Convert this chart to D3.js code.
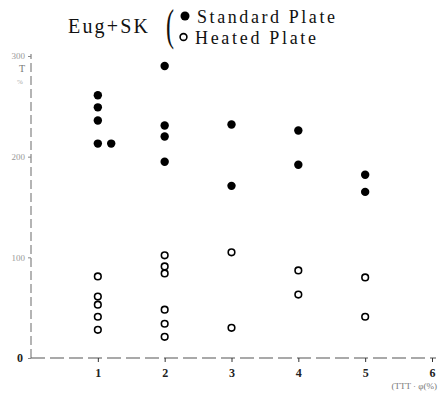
<!DOCTYPE html>
<html><head><meta charset="utf-8">
<script src="https://cdn.jsdelivr.net/npm/d3@7"></script>
<style>html,body{margin:0;padding:0;background:#fff}svg{display:block}</style>
</head><body>
<svg id="c" width="439" height="393"></svg>
<script>
// Data
const standardX = [1,1,1,1,1.2, 2,2,2,2, 3,3, 4,4, 5,5];
const standardY = [261,249,236,213,213, 290,231,220,195, 232,171, 226,192, 182,165];
const heatedX = [1,1,1,1,1, 2,2,2,2,2,2, 3,3, 4,4, 5,5];
const heatedY = [81,61,53,41,28, 102,91,84,48,34,21, 105,30, 87,63, 80,41];
const xTicks = [1,2,3,4,5,6];
const xTickLabels = ["1","2","3","4","5","6"];
const yTicks = [0,100,200,300];
const yTickLabels = ["0","100","200","300"];
const legendLabels = ["Standard Plate","Heated Plate"];
const title = "Eug+SK";

const svg = d3.select("#c");
const x = d3.scaleLinear().domain([0,6]).range([31,432]);
const y = d3.scaleLinear().domain([0,300]).range([358,56]);
const serif = "'Liberation Serif','DejaVu Serif',serif";

// axes
svg.append("line").attr("x1",x(0)).attr("x2",x(0)).attr("y1",y(0)).attr("y2",y(300)-2)
  .attr("stroke","#777").attr("stroke-width",1.1).attr("stroke-dasharray","9,4");
svg.append("line").attr("x1",x(0)).attr("x2",x(6)+4).attr("y1",y(0)).attr("y2",y(0))
  .attr("stroke","#555").attr("stroke-width",1.2).attr("stroke-dasharray","14,5");

const xa = d3.axisBottom(x).tickValues(xTicks).tickFormat((d,i)=>xTickLabels[i]).tickSize(4).tickSizeOuter(0);
const gx = svg.append("g").attr("transform",`translate(0,${y(0)})`).call(xa);
gx.select(".domain").remove();
gx.selectAll("line").attr("stroke","#333");
gx.selectAll("text").attr("font-family",serif).attr("font-size",12).attr("font-weight","bold").attr("fill","#222").attr("dy","1em");

const ya = d3.axisLeft(y).tickValues(yTicks).tickFormat((d,i)=>yTickLabels[i]).tickSize(3).tickSizeOuter(0);
const gy = svg.append("g").attr("transform",`translate(${x(0)},0)`).call(ya);
gy.select(".domain").remove();
gy.selectAll("line").attr("stroke","#888");
gy.selectAll("text").attr("font-family",serif).attr("font-size",9).attr("fill","#999")
  .filter(d=>d===0).attr("font-size",12).attr("font-weight","bold").attr("fill","#222").attr("dx",-2);

// y label
svg.append("text").attr("x",19).attr("y",72).attr("font-family",serif).attr("font-size",10).attr("fill","#777").text("T");
svg.append("text").attr("x",17).attr("y",84).attr("font-family",serif).attr("font-size",7).attr("fill","#aaa").text("%");
// x label
svg.append("text").attr("x",437).attr("y",389).attr("text-anchor","end").attr("font-family",serif).attr("font-size",9).attr("fill","#777").text("(TTT · φ(%)");

// points
svg.append("g").selectAll("circle").data(standardX).join("circle")
  .attr("cx",(d)=>x(d)).attr("cy",(d,i)=>y(standardY[i])).attr("r",4.2).attr("fill","#000");
svg.append("g").selectAll("circle").data(heatedX).join("circle")
  .attr("cx",(d)=>x(d)).attr("cy",(d,i)=>y(heatedY[i])).attr("r",3.3)
  .attr("fill","#fff").attr("stroke","#000").attr("stroke-width",1.6);

// title + legend
svg.append("text").attr("x",68).attr("y",33).attr("font-family",serif).attr("font-size",20)
  .attr("textLength",80).attr("lengthAdjust","spacing").attr("fill","#111").text(title);
svg.append("text").attr("transform","translate(166,40) scale(0.8,1.45)").attr("font-family",serif).attr("font-size",30)
  .attr("fill","#111").text("(");
svg.append("circle").attr("cx",185).attr("cy",16).attr("r",4.5).attr("fill","#000");
svg.append("circle").attr("cx",183.5).attr("cy",37).attr("r",3.4).attr("fill","#fff").attr("stroke","#000").attr("stroke-width",1.6);
svg.append("text").attr("x",197).attr("y",23).attr("font-family",serif).attr("font-size",18)
  .attr("textLength",138).attr("lengthAdjust","spacing").attr("fill","#111").text(legendLabels[0]);
svg.append("text").attr("x",195).attr("y",44).attr("font-family",serif).attr("font-size",18)
  .attr("textLength",121).attr("lengthAdjust","spacing").attr("fill","#111").text(legendLabels[1]);
</script>
</body></html>
